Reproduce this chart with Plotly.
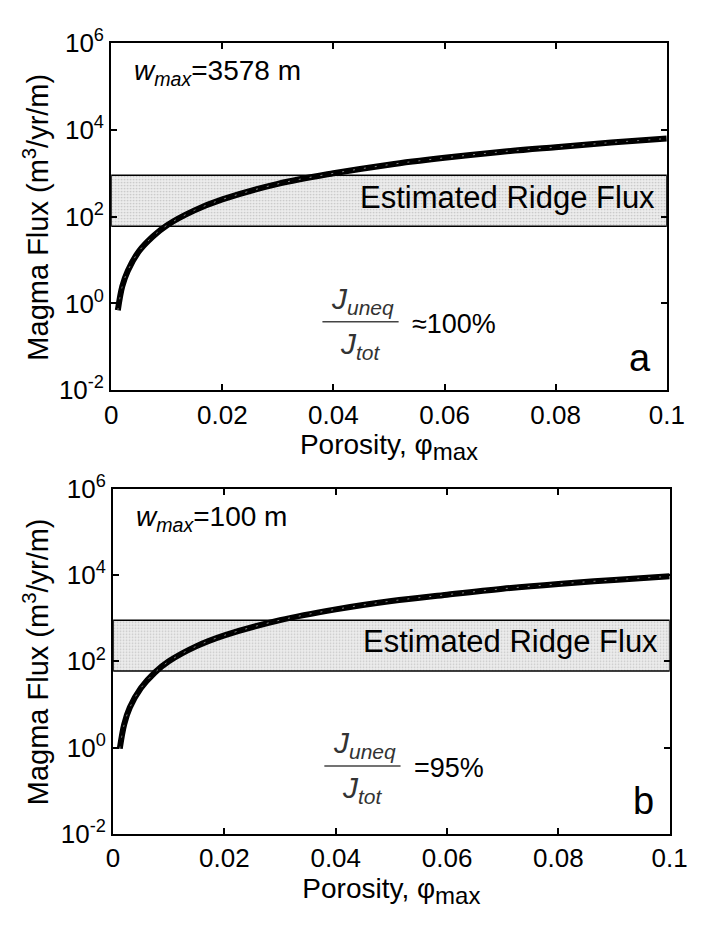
import plotly.graph_objects as go

# ---- data ----
porosity = [0.0012, 0.002, 0.003, 0.005, 0.0075, 0.01, 0.015, 0.02, 0.03, 0.04,
            0.05, 0.06, 0.07, 0.08, 0.09, 0.1]
flux_a = [0.7, 2.5, 5.7, 16, 35, 63, 140, 250, 570, 1000,
          1580, 2270, 3100, 4000, 5100, 6300]
flux_b = [0.95, 3.5, 8.5, 24, 55, 100, 225, 400, 900, 1600,
          2500, 3500, 4800, 6200, 7700, 9300]
ridge_low = 60
ridge_high = 900
x_ticks = [0, 0.02, 0.04, 0.06, 0.08, 0.1]
x_ticktext = ["0", "0.02", "0.04", "0.06", "0.08", "0.1"]
y_ticks = [1e-2, 1, 1e2, 1e4, 1e6]
y_ticktext = ["10<sup>-2</sup>", "10<sup>0</sup>", "10<sup>2</sup>", "10<sup>4</sup>", "10<sup>6</sup>"]
w_values = ["3578 m", "100 m"]
ratio_labels = ["\u2248100%", "=95%"]
panel_labels = ["a", "b"]

W, H = 706, 930
FONT = "Liberation Sans, Arial, sans-serif"


def px(x):
    return x / W


def py(y):
    return 1 - y / H


panels = [
    dict(xd=(108, 684), yd=(26, 386), flux=flux_a),
    dict(xd=(110, 687), yd=(488, 846), flux=flux_b),
]

fig = go.Figure()
layout = dict(
    width=W, height=H, margin=dict(l=0, r=0, t=0, b=0),
    paper_bgcolor="white", plot_bgcolor="white", showlegend=False,
    font=dict(family=FONT, size=26, color="black"),
)
annotations = []
shapes = []

for i, p in enumerate(panels):
    xa = "x" if i == 0 else "x2"
    ya = "y" if i == 0 else "y2"
    xkey = "xaxis" if i == 0 else "xaxis2"
    ykey = "yaxis" if i == 0 else "yaxis2"
    # band
    fig.add_trace(go.Scatter(
        x=[0, 0.1, 0.1, 0, 0], y=[ridge_low, ridge_low, ridge_high, ridge_high, ridge_low],
        mode="lines", fill="toself", fillcolor="#e4e4e4",
        fillpattern=dict(shape=".", fgcolor="#9a9a9a", bgcolor="#ededed", size=3, solidity=0.25),
        line=dict(color="black", width=1.5), xaxis=xa, yaxis=ya, hoverinfo="skip"))
    # curve
    fig.add_trace(go.Scatter(x=porosity, y=p["flux"], mode="lines",
                             line=dict(color="black", width=6, shape="spline"),
                             xaxis=xa, yaxis=ya))
    fig.add_trace(go.Scatter(x=porosity, y=p["flux"], mode="lines",
                             line=dict(color="#bbbbbb", width=1, dash="2px,9px", shape="spline"),
                             opacity=0.7, xaxis=xa, yaxis=ya))
    x0, x1 = p["xd"]
    y0, y1 = p["yd"]
    layout[xkey] = dict(
        domain=[px(x0), px(x1)], range=[0, 0.1], anchor=ya,
        tickvals=x_ticks, ticktext=x_ticktext, ticks="inside", ticklen=6,
        tickwidth=1.5, tickcolor="black", showline=True, linecolor="black",
        linewidth=2, mirror="ticks", showgrid=False, zeroline=False,
        tickfont=dict(size=26, family=FONT),
        title=dict(text="Porosity, \u03c6<sub><span style='font-size:24px'>max</span></sub>",
                   font=dict(size=28, family=FONT), standoff=2),
    )
    layout[ykey] = dict(
        domain=[py(y1), py(y0)], type="log", range=[-2, 6], anchor=xa,
        tickvals=y_ticks, ticktext=y_ticktext, ticks="inside", ticklen=6,
        tickwidth=1.5, tickcolor="black", showline=True, linecolor="black",
        linewidth=2, mirror="ticks", showgrid=False, zeroline=False,
        tickfont=dict(size=26, family=FONT),
    )
    # y title
    annotations.append(dict(text="Magma Flux (m<sup>3</sup>/yr/m)", x=px(30), y=py((y0 + y1) / 2),
                            xref="paper", yref="paper", xanchor="center", yanchor="middle",
                            textangle=-90, showarrow=False, font=dict(size=29)))
    # texts
    annotations.append(dict(text="<i>w</i><sub><i>max</i></sub>=" + w_values[i],
                            x=px(x0 + 22), y=py(y0 + 31), xref="paper", yref="paper",
                            xanchor="left", yanchor="middle", showarrow=False, font=dict(size=28)))
    band_mid_y = (y0 + (y1 - y0) * (6 - 2.45) / 8)
    annotations.append(dict(text="Estimated Ridge Flux", x=px(x1 - 10), y=py(band_mid_y),
                            xref="paper", yref="paper", xanchor="right", yanchor="middle",
                            showarrow=False, font=dict(size=31)))
    line_y = y0 + (y1 - y0) * (289 / 360)
    fx0, fx1 = x0 + 219, x0 + 298
    shapes.append(dict(type="line", xref="paper", yref="paper", x0=px(fx0), x1=px(fx1),
                       y0=py(line_y), y1=py(line_y), line=dict(color="#444", width=1.5)))
    fc = (fx0 + fx1) / 2
    annotations.append(dict(text="<i>J</i><sub><i>uneq</i></sub>", x=px(fc + 2), y=py(line_y - 22),
                            xref="paper", yref="paper", xanchor="center", yanchor="middle",
                            showarrow=False, font=dict(size=30, color="#333")))
    annotations.append(dict(text="<i>J</i><sub><i>tot</i></sub>", x=px(fc), y=py(line_y + 25),
                            xref="paper", yref="paper", xanchor="center", yanchor="middle",
                            showarrow=False, font=dict(size=30, color="#333")))
    annotations.append(dict(text=ratio_labels[i], x=px(fx1 + 12), y=py(line_y + 2),
                            xref="paper", yref="paper", xanchor="left", yanchor="middle",
                            showarrow=False, font=dict(size=27)))
    annotations.append(dict(text=panel_labels[i], x=px(x1 - 14), y=py(y1 - 34),
                            xref="paper", yref="paper", xanchor="right", yanchor="middle",
                            showarrow=False, font=dict(size=38)))

layout["annotations"] = annotations
layout["shapes"] = shapes
fig.update_layout(**layout)
fig.write_html("out.html")
